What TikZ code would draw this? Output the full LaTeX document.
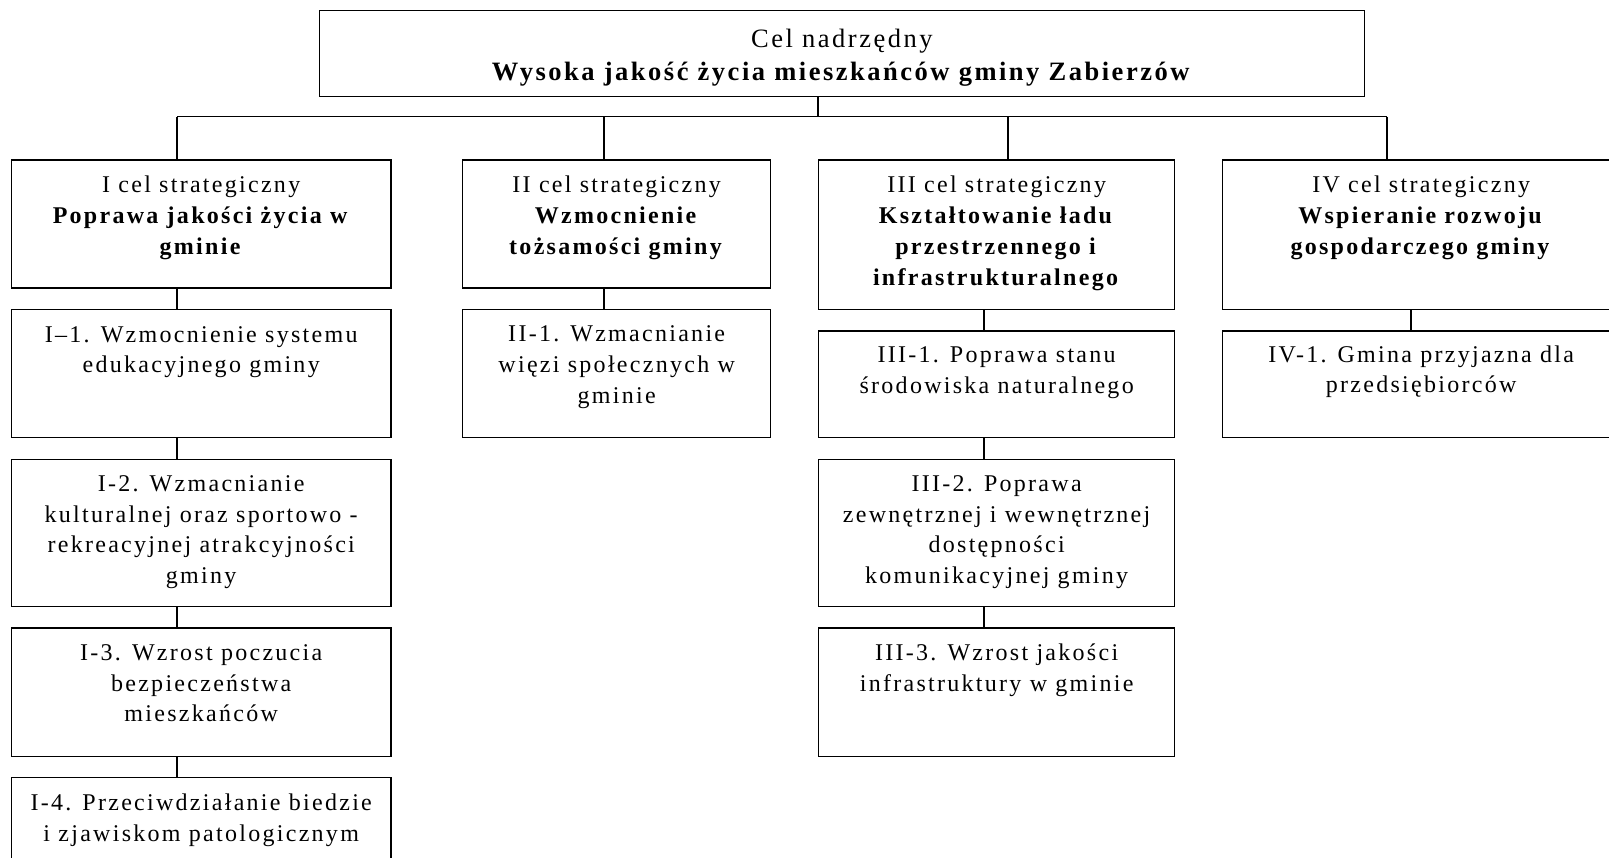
\documentclass[tikz,border=0pt]{standalone}
\usepackage{fontspec}
\setmainfont{Liberation Serif}[LetterSpace=9.5]
\tikzset{
  box/.style={draw=black, line width=1.3pt, rectangle, inner sep=0pt, anchor=north west},
  txt/.style={anchor=north, inner sep=0pt, align=center, font=\fontsize{24}{30.6}\selectfont},
  stxt/.style={anchor=north, inner sep=0pt, align=center, font=\fontsize{24}{31}\selectfont},
  toptxt/.style={anchor=north, inner sep=0pt, align=center, font=\fontsize{26.5}{33}\selectfont},
  conn/.style={draw=black, line width=1.3pt}
}
\newcommand{\fl}{\rule{0pt}{23pt}}
\newcommand{\flt}{\rule{0pt}{25pt}}
\begin{document}
\begin{tikzpicture}[x=1pt, y=-1pt]
\useasboundingbox (0,0) rectangle (1609,858);
\clip (0,0) rectangle (1609,858);
% boxes
\node[box, minimum width=1044.5pt, minimum height=86pt] (top) at (319,10) {};
\node[box, minimum width=379.5pt, minimum height=128pt] (sI) at (10.8,159.3) {};
\node[box, minimum width=308pt, minimum height=128pt] (sII) at (462,159.3) {};
\node[box, minimum width=356pt, minimum height=149.4pt] (sIII) at (818,159.3) {};
\node[box, minimum width=398pt, minimum height=149.4pt] (sIV) at (1221.5,159.3) {};
\node[box, minimum width=379.5pt, minimum height=128pt] (I1) at (10.8,308.7) {};
\node[box, minimum width=379.5pt, minimum height=147pt] (I2) at (10.8,458.8) {};
\node[box, minimum width=379.5pt, minimum height=128.3pt] (I3) at (10.8,627.2) {};
\node[box, minimum width=379.5pt, minimum height=130pt] (I4) at (10.8,777) {};
\node[box, minimum width=308pt, minimum height=128pt] (II1) at (462,308.7) {};
\node[box, minimum width=356pt, minimum height=106.2pt] (III1) at (818,330.5) {};
\node[box, minimum width=356pt, minimum height=147pt] (III2) at (818,458.8) {};
\node[box, minimum width=356pt, minimum height=128.3pt] (III3) at (818,627.2) {};
\node[box, minimum width=398pt, minimum height=106.2pt] (IV1) at (1221.5,330.5) {};
% texts
\node[toptxt] (ttop) at ([yshift=-12pt]top.north) {\flt Cel nadrzędny\\ \textbf{Wysoka jakość życia mieszkańców gminy Zabierzów}};
\node[stxt] (tsI) at ([yshift=-9.7pt]sI.north) {\fl I cel strategiczny\\ \textbf{Poprawa jakości życia w}\\ \textbf{gminie}};
\node[stxt] (tsII) at ([yshift=-9.7pt]sII.north) {\fl II cel strategiczny\\ \textbf{Wzmocnienie}\\ \textbf{tożsamości gminy}};
\node[stxt] (tsIII) at ([yshift=-9.7pt]sIII.north) {\fl III cel strategiczny\\ \textbf{Kształtowanie ładu}\\ \textbf{przestrzennego i}\\ \textbf{infrastrukturalnego}};
\node[stxt] (tsIV) at ([yshift=-9.7pt]sIV.north) {\fl IV cel strategiczny\\ \textbf{Wspieranie rozwoju}\\ \textbf{gospodarczego gminy}};
\node[txt] (tI1) at ([yshift=-10.5pt]I1.north) {\fl I–1. Wzmocnienie systemu\\ edukacyjnego gminy};
\node[txt] (tI2) at ([yshift=-9.5pt]I2.north) {\fl I-2. Wzmacnianie\\ kulturalnej oraz sportowo -\\ rekreacyjnej atrakcyjności\\ gminy};
\node[txt] (tI3) at ([yshift=-10pt]I3.north) {\fl I-3. Wzrost poczucia\\ bezpieczeństwa\\ mieszkańców};
\node[txt] (tI4) at ([yshift=-10.5pt]I4.north) {\fl I-4. Przeciwdziałanie biedzie\\ i zjawiskom patologicznym};
\node[txt] (tII1) at ([yshift=-10pt]II1.north) {\fl II-1. Wzmacnianie\\ więzi społecznych w\\ gminie};
\node[txt] (tIII1) at ([yshift=-9pt]III1.north) {\fl III-1. Poprawa stanu\\ środowiska naturalnego};
\node[txt] (tIII2) at ([yshift=-9.5pt]III2.north) {\fl III-2. Poprawa\\ zewnętrznej i wewnętrznej\\ dostępności\\ komunikacyjnej gminy};
\node[txt] (tIII3) at ([yshift=-10pt]III3.north) {\fl III-3. Wzrost jakości\\ infrastruktury w gminie};
\node[txt] (tIV1) at ([yshift=-8.5pt]IV1.north) {\fl IV-1. Gmina przyjazna dla\\ przedsiębiorców};
% connector coordinates
\coordinate (b0) at (818,116.7);
\coordinate (b1) at (177,116.7);
\coordinate (b2) at (604,116.7);
\coordinate (b3) at (1008,116.7);
\coordinate (b4) at (1387,116.7);
\coordinate (c3) at (984,0);
\coordinate (c4) at (1411,0);
% connectors
\draw[conn] (top.south -| b0) -- (b0);
\draw[conn] (b1) -- (b4);
\draw[conn] (b1) -- (b1 |- sI.north);
\draw[conn] (b2) -- (b2 |- sII.north);
\draw[conn] (b3) -- (b3 |- sIII.north);
\draw[conn] (b4) -- (b4 |- sIV.north);
\draw[conn] (sI.south -| b1) -- (b1 |- I1.north);
\draw[conn] (I1.south -| b1) -- (b1 |- I2.north);
\draw[conn] (I2.south -| b1) -- (b1 |- I3.north);
\draw[conn] (I3.south -| b1) -- (b1 |- I4.north);
\draw[conn] (sII.south -| b2) -- (b2 |- II1.north);
\draw[conn] (sIII.south -| c3) -- (c3 |- III1.north);
\draw[conn] (III1.south -| c3) -- (c3 |- III2.north);
\draw[conn] (III2.south -| c3) -- (c3 |- III3.north);
\draw[conn] (sIV.south -| c4) -- (c4 |- IV1.north);
\end{tikzpicture}
\end{document}
